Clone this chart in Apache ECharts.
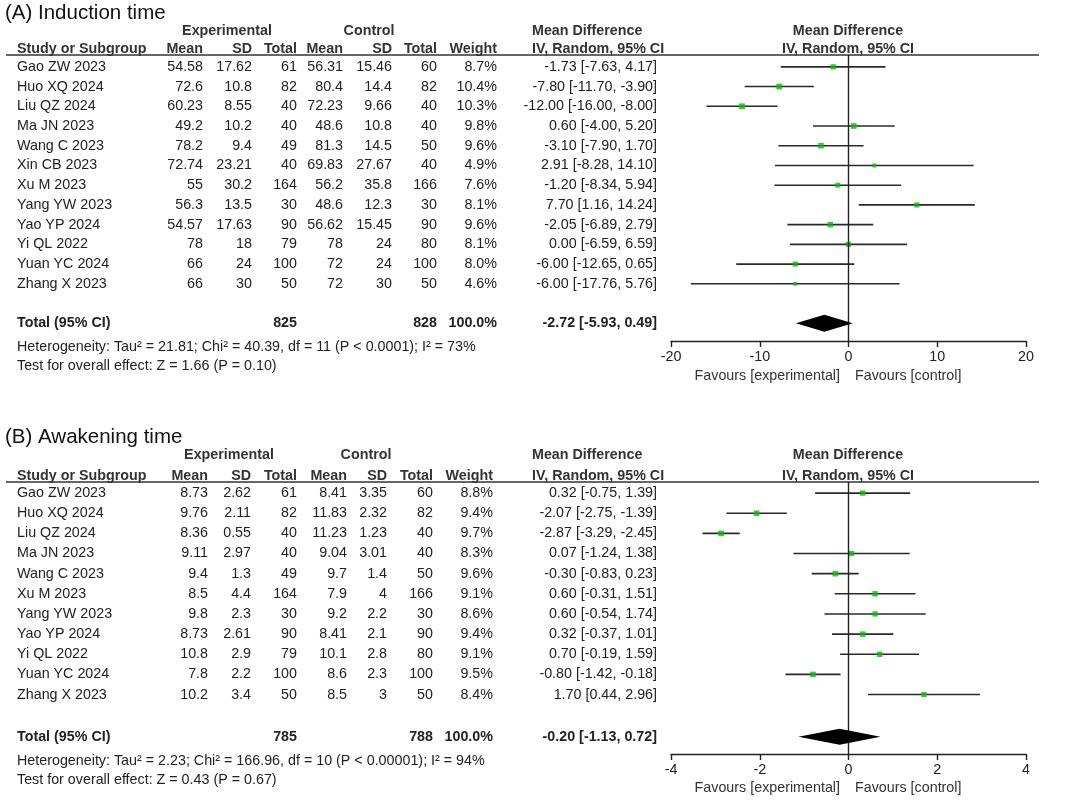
<!DOCTYPE html>
<html>
<head>
<meta charset="utf-8">
<script src="https://cdn.jsdelivr.net/npm/echarts@6/dist/echarts.min.js"></script>
<style>
  html, body { margin: 0; padding: 0; background: #fff; }
  #main { width: 1065px; height: 801px; }
</style>
</head>
<body>
<div id="main"></div>
<script>
// ---- panel A: induction time ----
const studiesA = ['Gao ZW 2023', 'Huo XQ 2024', 'Liu QZ 2024', 'Ma JN 2023', 'Wang C 2023', 'Xin CB 2023',
  'Xu M 2023', 'Yang YW 2023', 'Yao YP 2024', 'Yi QL 2022', 'Yuan YC 2024', 'Zhang X 2023'];
const expMeanA = ['54.58', '72.6', '60.23', '49.2', '78.2', '72.74', '55', '56.3', '54.57', '78', '66', '66'];
const expSdA = ['17.62', '10.8', '8.55', '10.2', '9.4', '23.21', '30.2', '13.5', '17.63', '18', '24', '30'];
const expNA = [61, 82, 40, 40, 49, 40, 164, 30, 90, 79, 100, 50];
const ctlMeanA = ['56.31', '80.4', '72.23', '48.6', '81.3', '69.83', '56.2', '48.6', '56.62', '78', '72', '72'];
const ctlSdA = ['15.46', '14.4', '9.66', '10.8', '14.5', '27.67', '35.8', '12.3', '15.45', '24', '24', '30'];
const ctlNA = [60, 82, 40, 40, 50, 40, 166, 30, 90, 80, 100, 50];
const weightA = [8.7, 10.4, 10.3, 9.8, 9.6, 4.9, 7.6, 8.1, 9.6, 8.1, 8.0, 4.6];
const mdA = [-1.73, -7.80, -12.00, 0.60, -3.10, 2.91, -1.20, 7.70, -2.05, 0.00, -6.00, -6.00];
const loA = [-7.63, -11.70, -16.00, -4.00, -7.90, -8.28, -8.34, 1.16, -6.89, -6.59, -12.65, -17.76];
const hiA = [4.17, -3.90, -8.00, 5.20, 1.70, 14.10, 5.94, 14.24, 2.79, 6.59, 0.65, 5.76];
const totalA = { expN: 825, ctlN: 828, md: -2.72, lo: -5.93, hi: 0.49 };
const hetA = 'Heterogeneity: Tau\u00b2 = 21.81; Chi\u00b2 = 40.39, df = 11 (P < 0.0001); I\u00b2 = 73%';
const testA = 'Test for overall effect: Z = 1.66 (P = 0.10)';
const ticksA = [-20, 20, 10];

// ---- panel B: awakening time ----
const studiesB = ['Gao ZW 2023', 'Huo XQ 2024', 'Liu QZ 2024', 'Ma JN 2023', 'Wang C 2023', 'Xu M 2023',
  'Yang YW 2023', 'Yao YP 2024', 'Yi QL 2022', 'Yuan YC 2024', 'Zhang X 2023'];
const expMeanB = ['8.73', '9.76', '8.36', '9.11', '9.4', '8.5', '9.8', '8.73', '10.8', '7.8', '10.2'];
const expSdB = ['2.62', '2.11', '0.55', '2.97', '1.3', '4.4', '2.3', '2.61', '2.9', '2.2', '3.4'];
const expNB = [61, 82, 40, 40, 49, 164, 30, 90, 79, 100, 50];
const ctlMeanB = ['8.41', '11.83', '11.23', '9.04', '9.7', '7.9', '9.2', '8.41', '10.1', '8.6', '8.5'];
const ctlSdB = ['3.35', '2.32', '1.23', '3.01', '1.4', '4', '2.2', '2.1', '2.8', '2.3', '3'];
const ctlNB = [60, 82, 40, 40, 50, 166, 30, 90, 80, 100, 50];
const weightB = [8.8, 9.4, 9.7, 8.3, 9.6, 9.1, 8.6, 9.4, 9.1, 9.5, 8.4];
const mdB = [0.32, -2.07, -2.87, 0.07, -0.30, 0.60, 0.60, 0.32, 0.70, -0.80, 1.70];
const loB = [-0.75, -2.75, -3.29, -1.24, -0.83, -0.31, -0.54, -0.37, -0.19, -1.42, 0.44];
const hiB = [1.39, -1.39, -2.45, 1.38, 0.23, 1.51, 1.74, 1.01, 1.59, -0.18, 2.96];
const totalB = { expN: 785, ctlN: 788, md: -0.20, lo: -1.13, hi: 0.72 };
const hetB = 'Heterogeneity: Tau\u00b2 = 2.23; Chi\u00b2 = 166.96, df = 10 (P < 0.00001); I\u00b2 = 94%';
const testB = 'Test for overall effect: Z = 0.43 (P = 0.67)';
const ticksB = [-4, 4, 2];

const FAM = '"Liberation Sans", Arial, sans-serif';
const cellFont = '14.3px ' + FAM;
const boldFont = 'bold 14.3px ' + FAM;
const INK = '#222';

// layout of each panel (pixels / row positions)
const panels = [
  {
    title: '(A) Induction time', studies: studiesA, expMean: expMeanA, expSd: expSdA, expN: expNA,
    ctlMean: ctlMeanA, ctlSd: ctlSdA, ctlN: ctlNA, weight: weightA, md: mdA, lo: loA, hi: hiA,
    total: totalA, het: hetA, test: testA, ticks: ticksA,
    cols: [203, 252, 297, 343, 392, 437, 497, 657], expC: 227, ctlC: 369,
    top: 55, height: 286, yMin: -0.6, yMax: 13.9, totalRow: 13, hetRow: 14.2, testRow: 15.16,
    titleY: 13, h1: 31, h2: 49, favY: 376, dh: 8.5
  },
  {
    title: '(B) Awakening time', studies: studiesB, expMean: expMeanB, expSd: expSdB, expN: expNB,
    ctlMean: ctlMeanB, ctlSd: ctlSdB, ctlN: ctlNB, weight: weightB, md: mdB, lo: loB, hi: hiB,
    total: totalB, het: hetB, test: testB, ticks: ticksB,
    cols: [208, 251, 297, 347, 387, 433, 493, 657], expC: 229, ctlC: 366,
    top: 482, height: 272, yMin: -0.55, yMax: 12.95, totalRow: 12.1, hetRow: 13.3, testRow: 14.25,
    titleY: 437, h1: 455, h2: 476, favY: 788, dh: 8
  }
];

function ciText(m, l, h) {
  return m.toFixed(2) + ' [' + l.toFixed(2) + ', ' + h.toFixed(2) + ']';
}

function tableRows(p) {
  const c = p.cols;
  const rows = p.studies.map((s, i) => ({
    y: i,
    cells: [
      { x: 17, t: s, a: 'left' },
      { x: c[0], t: p.expMean[i] }, { x: c[1], t: p.expSd[i] }, { x: c[2], t: String(p.expN[i]) },
      { x: c[3], t: p.ctlMean[i] }, { x: c[4], t: p.ctlSd[i] }, { x: c[5], t: String(p.ctlN[i]) },
      { x: c[6], t: p.weight[i].toFixed(1) + '%' },
      { x: c[7], t: ciText(p.md[i], p.lo[i], p.hi[i]) }
    ]
  }));
  rows.push({
    y: p.totalRow, bold: true,
    cells: [
      { x: 17, t: 'Total (95% CI)', a: 'left' },
      { x: c[2], t: String(p.total.expN) }, { x: c[5], t: String(p.total.ctlN) },
      { x: c[6], t: '100.0%' }, { x: c[7], t: ciText(p.total.md, p.total.lo, p.total.hi) }
    ]
  });
  rows.push({ y: p.hetRow, cells: [{ x: 17, t: p.het, a: 'left' }] });
  rows.push({ y: p.testRow, cells: [{ x: 17, t: p.test, a: 'left' }] });
  return rows;
}

function txt(x, y, text, font, align, color) {
  return {
    type: 'text', silent: true,
    style: {
      x: x, y: y, text: text, font: font, fill: color || INK,
      align: align || 'left', textAlign: align || 'left',
      verticalAlign: 'middle', textVerticalAlign: 'middle'
    }
  };
}

const grid = [], xAxis = [], yAxis = [], series = [], graphic = [];

panels.forEach((p, g) => {
  grid.push({ left: 671, width: 355, top: p.top, height: p.height });
  xAxis.push({
    gridIndex: g, type: 'value', position: 'bottom',
    min: p.ticks[0], max: p.ticks[1], interval: p.ticks[2],
    axisLine: { onZero: false, lineStyle: { color: INK, width: 1.4 } },
    axisTick: { length: 6, lineStyle: { color: INK, width: 1.4 } },
    axisLabel: { color: INK, fontSize: 14.3, fontFamily: FAM, margin: 9 },
    splitLine: { show: false }
  });
  yAxis.push({ gridIndex: g, type: 'value', inverse: true, min: p.yMin, max: p.yMax, show: false });

  const rows = tableRows(p);
  series.push({
    type: 'custom', xAxisIndex: g, yAxisIndex: g, clip: false, silent: true,
    data: rows.map(r => [0, r.y]),
    renderItem: (params, api) => {
      const y = api.coord([0, api.value(1)])[1];
      const r = rows[params.dataIndex];
      return {
        type: 'group',
        children: r.cells.map(cl => txt(cl.x, y, cl.t, r.bold ? boldFont : cellFont, cl.a || 'right'))
      };
    }
  });

  // confidence interval lines
  series.push({
    type: 'custom', xAxisIndex: g, yAxisIndex: g, silent: true, z: 2,
    data: p.studies.map((s, i) => [p.lo[i], p.hi[i], i]),
    encode: { x: [0, 1], y: 2 },
    renderItem: (params, api) => {
      const a = api.coord([api.value(0), api.value(2)]);
      const b = api.coord([api.value(1), api.value(2)]);
      return {
        type: 'line',
        shape: { x1: a[0], y1: a[1], x2: b[0], y2: b[1] },
        style: { stroke: '#2a2a2a', lineWidth: 1.6 }
      };
    }
  });

  // point estimates
  series.push({
    type: 'scatter', xAxisIndex: g, yAxisIndex: g, silent: true, z: 4,
    symbol: 'rect',
    symbolSize: v => Math.sqrt(v[2]) * 1.8,
    itemStyle: { color: '#00c000' },
    data: p.md.map((m, i) => [m, i, p.weight[i]]),
    markLine: {
      silent: true, symbol: 'none', label: { show: false },
      lineStyle: { color: INK, width: 1.4, type: 'solid' },
      data: [{ xAxis: 0 }]
    }
  });

  // pooled diamond
  series.push({
    type: 'custom', xAxisIndex: g, yAxisIndex: g, silent: true, z: 5,
    data: [[p.total.lo, p.total.md, p.total.hi, p.totalRow]],
    encode: { x: [0, 1, 2], y: 3 },
    renderItem: (params, api) => {
      const y = api.value(3);
      const l = api.coord([api.value(0), y]);
      const m = api.coord([api.value(1), y]);
      const r = api.coord([api.value(2), y]);
      return {
        type: 'polygon',
        shape: { points: [[l[0], l[1]], [m[0], m[1] - p.dh], [r[0], r[1]], [m[0], m[1] + p.dh]] },
        style: { fill: '#000' }
      };
    }
  });

  // headers
  const c = p.cols;
  graphic.push(txt(5, p.titleY, p.title, '20.5px ' + FAM, 'left', '#111'));
  graphic.push(txt(p.expC, p.h1, 'Experimental', boldFont, 'center', '#333'));
  graphic.push(txt(p.ctlC, p.h1, 'Control', boldFont, 'center', '#333'));
  graphic.push(txt(532, p.h1, 'Mean Difference', boldFont, 'left', '#333'));
  graphic.push(txt(848, p.h1, 'Mean Difference', boldFont, 'center', '#333'));
  graphic.push(txt(17, p.h2, 'Study or Subgroup', boldFont, 'left', '#333'));
  ['Mean', 'SD', 'Total', 'Mean', 'SD', 'Total', 'Weight'].forEach((h, k) => {
    graphic.push(txt(c[k], p.h2, h, boldFont, 'right', '#333'));
  });
  graphic.push(txt(532, p.h2, 'IV, Random, 95% CI', boldFont, 'left', '#333'));
  graphic.push(txt(848, p.h2, 'IV, Random, 95% CI', boldFont, 'center', '#333'));
  graphic.push({
    type: 'line', silent: true,
    shape: { x1: 6, y1: p.top, x2: 1039, y2: p.top },
    style: { stroke: '#333', lineWidth: 1.5 }
  });
  graphic.push(txt(840, p.favY, 'Favours [experimental]', cellFont, 'right', '#333'));
  graphic.push(txt(855, p.favY, 'Favours [control]', cellFont, 'left', '#333'));
});

const chart = echarts.init(document.getElementById('main'));
chart.setOption({
  animation: false,
  backgroundColor: '#fff',
  grid: grid,
  xAxis: xAxis,
  yAxis: yAxis,
  series: series,
  graphic: graphic
});
</script>
</body>
</html>
